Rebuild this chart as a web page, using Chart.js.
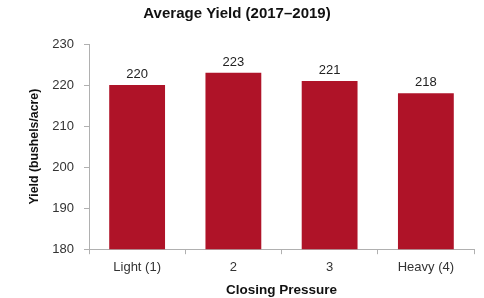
<!DOCTYPE html>
<html>
<head>
<meta charset="utf-8">
<script src="https://cdn.jsdelivr.net/npm/chart.js@4/dist/chart.umd.min.js"></script>
<style>
  html, body { margin: 0; padding: 0; background: #fff; }
  #wrap { width: 484px; height: 298px; }
</style>
</head>
<body>
<div id="wrap"><canvas id="grafico" width="484" height="298"></canvas></div>
<script>
// dados do gráfico
const categorias = ['Light (1)', '2', '3', 'Heavy (4)'];
const rendimento = [220, 223, 221, 218];
const ticksY = [180, 190, 200, 210, 220, 230];

const fonte = '"Liberation Sans", Arial, Helvetica, sans-serif';

// rótulos de valor em cima das barras
const rotulosValor = {
  id: 'rotulosValor',
  afterDatasetsDraw(chart) {
    const ctx = chart.ctx;
    const meta = chart.getDatasetMeta(0);
    ctx.save();
    ctx.font = '13px ' + fonte;
    ctx.fillStyle = '#222';
    ctx.textAlign = 'center';
    ctx.textBaseline = 'bottom';
    meta.data.forEach((bar, i) => {
      ctx.fillText(String(rendimento[i]), bar.x, bar.y - 4);
    });
    ctx.restore();
  }
};

new Chart(document.getElementById('grafico'), {
  type: 'bar',
  data: {
    labels: categorias,
    datasets: [{
      data: rendimento,
      backgroundColor: '#AF1328',
      borderWidth: 0,
      categoryPercentage: 1,
      barPercentage: 0.58
    }]
  },
  options: {
    responsive: false,
    animation: false,
    layout: { padding: { left: 0, right: 10, top: 0, bottom: 0 } },
    plugins: {
      legend: { display: false },
      tooltip: { enabled: false },
      title: {
        display: true,
        text: 'Average Yield (2017–2019)',
        color: '#111',
        font: { family: fonte, size: 15, weight: 'bold' },
        padding: { top: 5, bottom: 21 }
      }
    },
    scales: {
      y: {
        min: 180,
        max: 230,
        afterBuildTicks: s => { s.ticks = ticksY.map(v => ({ value: v })); },
        afterFit: s => { s.width = 89; },
        border: { color: '#b0b0b0', width: 1 },
        grid: { drawOnChartArea: false, color: '#b0b0b0', tickLength: 5 },
        ticks: { color: '#333', font: { family: fonte, size: 13 }, padding: 10 },
        title: {
          display: true,
          text: 'Yield (bushels/acre)',
          color: '#111',
          font: { family: fonte, size: 12.3, weight: 'bold' },
          padding: { top: 27, bottom: 0 }
        }
      },
      x: {
        offset: true,
        border: { color: '#b0b0b0', width: 1 },
        grid: { offset: true, drawOnChartArea: false, color: '#b0b0b0', tickLength: 5 },
        ticks: { color: '#333', font: { family: fonte, size: 13 }, padding: 5 },
        title: {
          display: true,
          text: 'Closing Pressure',
          color: '#111',
          font: { family: fonte, size: 13.5, weight: 'bold' },
          padding: { top: 2, bottom: 0 }
        }
      }
    }
  },
  plugins: [rotulosValor]
});
</script>
</body>
</html>
